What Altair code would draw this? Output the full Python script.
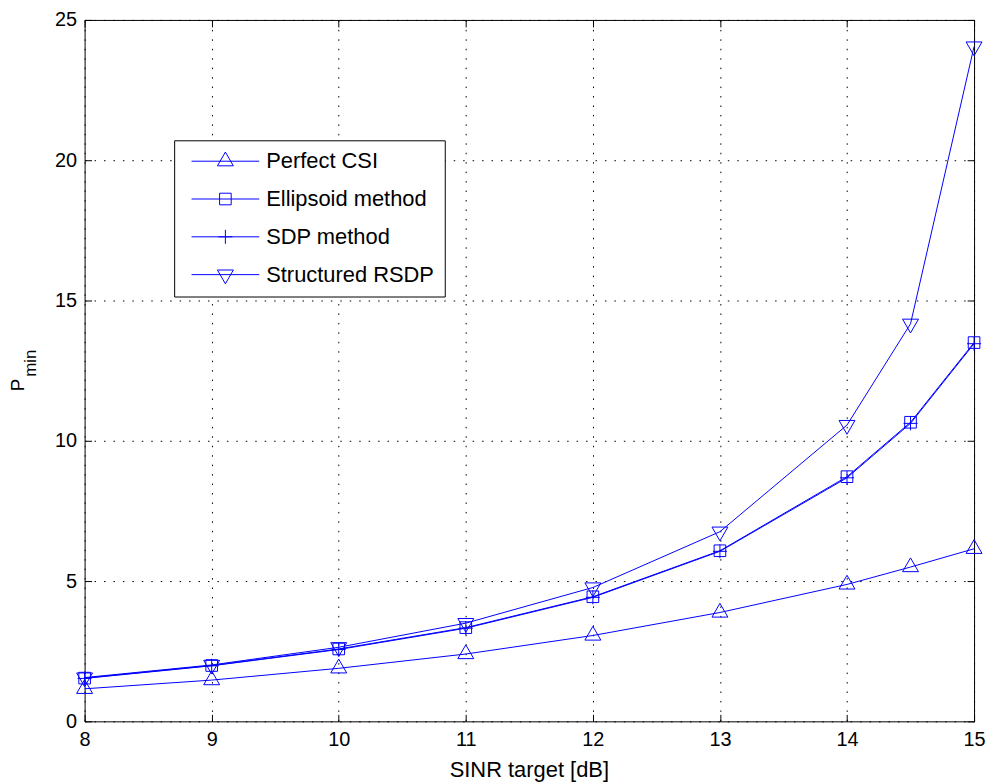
import altair as alt
import pandas as pd

# ---------------- data ----------------
x_vals = [8, 9, 10, 11, 12, 13, 14, 14.5, 15]
series_names = ["Perfect CSI", "Ellipsoid method", "SDP method", "Structured RSDP"]
perfect_csi = [1.16, 1.47, 1.89, 2.40, 3.06, 3.88, 4.88, 5.50, 6.15]
ellipsoid = [1.54, 1.99, 2.58, 3.34, 4.44, 6.08, 8.72, 10.66, 13.50]
sdp_method = [1.53, 1.98, 2.56, 3.32, 4.42, 6.06, 8.68, 10.62, 13.46]
structured_rsdp = [1.56, 2.01, 2.64, 3.50, 4.77, 6.76, 10.56, 14.17, 24.05]
x_ticks = [8, 9, 10, 11, 12, 13, 14, 15]
y_ticks = [0, 5, 10, 15, 20, 25]
x_title = ["SINR target [dB]"]
y_title_main = ["P"]
y_title_sub = ["min"]

# ---------------- styling ----------------
BLUE = "#0000ff"
FONT = "Liberation Sans"
W, H = 894, 705

# marker paths (unit = sqrt(size)/2 px)
tri_up = "M0,-1.15L1,0.58L-1,0.58Z"
square = "M-0.73,-0.73H0.73V0.73H-0.73Z"
plus = "M-0.88,0H0.88M0,-0.88V0.88"
tri_down = "M0,1.15L1,-0.58L-1,-0.58Z"
marker_paths = [tri_up, square, plus, tri_down]
legend_line = "M-4.25,0H4.25"
legend_paths = [legend_line + p for p in marker_paths]

rows = []
for name, vals in zip(series_names, [perfect_csi, ellipsoid, sdp_method, structured_rsdp]):
    for xv, yv in zip(x_vals, vals):
        rows.append({"x": xv, "y": yv, "series": name})
df = pd.DataFrame(rows)

x_scale = alt.Scale(domain=[8, 15], nice=False, zero=False)
y_scale = alt.Scale(domain=[0, 25], nice=False, zero=False)

axis_common = dict(
    labelFont=FONT, labelFontSize=20, labelColor="black", labelFlush=False,
    tickColor="black", tickWidth=1, tickSize=7, offset=-7, domain=False, title=None,
)
grid_common = dict(gridColor="black", gridOpacity=1, gridWidth=1, gridDash=[1.5, 8])

main_x_axis = alt.Axis(orient="bottom", values=x_ticks, labelPadding=8, grid=True, format="d",
                       **axis_common, **grid_common)
main_y_axis = alt.Axis(orient="left", values=y_ticks, labelPadding=8, grid=True, format="d",
                       **axis_common, **grid_common)
top_axis = alt.Axis(orient="top", values=x_ticks, labels=False, grid=False, **axis_common)
right_axis = alt.Axis(orient="right", values=y_ticks, labels=False, grid=False, **axis_common)

lines = alt.Chart(df).mark_line(color=BLUE, strokeWidth=1).encode(
    x=alt.X("x:Q", scale=x_scale, axis=main_x_axis),
    y=alt.Y("y:Q", scale=y_scale, axis=main_y_axis),
    detail="series:N",
)

points = alt.Chart(df).mark_point(filled=False, color=BLUE, size=256, strokeWidth=1, opacity=1).encode(
    x=alt.X("x:Q", scale=x_scale, axis=None),
    y=alt.Y("y:Q", scale=y_scale, axis=None),
    shape=alt.Shape("series:N", scale=alt.Scale(domain=series_names, range=marker_paths), legend=None),
)

legend_layer = alt.Chart(df).transform_filter("false").mark_point(
    filled=False, color=BLUE, size=256, strokeWidth=1, opacity=1
).encode(
    x=alt.X("x:Q", scale=x_scale, axis=top_axis),
    y=alt.Y("y:Q", scale=y_scale, axis=right_axis),
    shape=alt.Shape(
        "series:N",
        scale=alt.Scale(domain=series_names, range=legend_paths),
        legend=alt.Legend(
            orient="none", legendX=90, legendY=121, title=None,
            labelFont=FONT, labelFontSize=22, labelColor="black", labelLimit=400,
            symbolSize=256, symbolOffset=30.5, labelOffset=30, rowPadding=16, padding=10,
            strokeColor="black", fillColor="white",
            symbolStrokeColor=BLUE, symbolStrokeWidth=1, symbolFillColor="transparent",
        ),
    ),
)

xt_df = pd.DataFrame({"t": x_title})
x_title_layer = alt.Chart(xt_df).mark_text(
    font=FONT, fontSize=22, color="black", align="center", baseline="alphabetic"
).encode(text="t:N", x=alt.value(W / 2), y=alt.value(H + 56))

yt_main = alt.Chart(pd.DataFrame({"t": y_title_main})).mark_text(
    font=FONT, fontSize=19, color="black", align="center", baseline="alphabetic", angle=270
).encode(text="t:N", x=alt.value(-61), y=alt.value(367))

yt_sub = alt.Chart(pd.DataFrame({"t": y_title_sub})).mark_text(
    font=FONT, fontSize=17, color="black", align="center", baseline="alphabetic", angle=270
).encode(text="t:N", x=alt.value(-49), y=alt.value(345))

chart = alt.layer(lines, points, legend_layer, x_title_layer, yt_main, yt_sub).resolve_scale(
    shape="independent"
).resolve_axis(
    x="independent", y="independent"
).properties(
    width=W, height=H,
    background="white",
    autosize=alt.AutoSizeParams(type="none"),
    padding={"left": 77, "top": 10, "right": 12, "bottom": 64},
).configure_view(
    stroke="black", strokeWidth=1
).configure_legend(
    strokeWidth=1, cornerRadius=0,
)

chart.save("out.html", embed_options={"renderer": "svg", "actions": False})
